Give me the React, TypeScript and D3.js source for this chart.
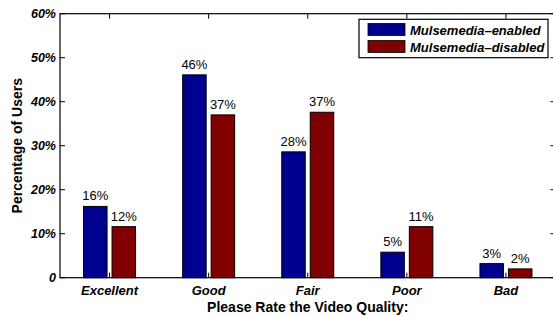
import React from "react";
import { scaleBand, scaleLinear } from "d3";

const categories = ["Excellent", "Good", "Fair", "Poor", "Bad"];
const seriesNames = ["Mulsemedia\u2013enabled", "Mulsemedia\u2013disabled"];
const enabledValues = [16.2, 46.1, 28.6, 5.8, 3.2];
const disabledValues = [11.6, 37.0, 37.6, 11.6, 2.0];
const enabledLabels = ["16%", "46%", "28%", "5%", "3%"];
const disabledLabels = ["12%", "37%", "37%", "11%", "2%"];
const yTicks = [0, 10, 20, 30, 40, 50, 60];
const yTickLabels = ["0", "10%", "20%", "30%", "40%", "50%", "60%"];
const colors = ["#00008f", "#800000"];

const W = 553;
const H = 316;
const left = 60;
const right = 555.5;
const top = 13.7;
const bottom = 277.7;
const font = "'Liberation Sans', Arial, Helvetica, sans-serif";

export default function App() {
  const x = scaleBand<string>().domain(categories).range([left, right]);
  const bw = x.bandwidth();
  const inner = scaleBand<string>()
    .domain(seriesNames)
    .range([-26, 26])
    .paddingInner(0.175);
  const y = scaleLinear().domain([0, 60]).range([bottom, top]);

  const series = [
    { name: seriesNames[0], values: enabledValues, labels: enabledLabels, color: colors[0] },
    { name: seriesNames[1], values: disabledValues, labels: disabledLabels, color: colors[1] },
  ];

  const center = (c: string) => (x(c) ?? 0) + bw / 2;

  return (
    <svg
      width={W}
      height={H}
      style={{ position: "absolute", left: 0, top: 0, background: "#fff" }}
      fontFamily={font}
    >
      <rect x={0} y={0} width={W} height={H} fill="#fff" />

      {/* bars */}
      {series.map((s) =>
        categories.map((c, i) => {
          const x0 = center(c) + (inner(s.name) ?? 0);
          return (
            <g key={s.name + c}>
              <rect
                x={x0}
                y={y(s.values[i])}
                width={inner.bandwidth()}
                height={bottom - y(s.values[i])}
                fill={s.color}
                stroke="#000"
                strokeWidth={1}
              />
              <text
                x={x0 + inner.bandwidth() / 2}
                y={y(s.values[i]) - 6}
                textAnchor="middle"
                fontSize={13}
                fill="#000"
              >
                {s.labels[i]}
              </text>
            </g>
          );
        })
      )}

      {/* frame */}
      <rect
        x={left}
        y={top}
        width={right - left}
        height={bottom - top}
        fill="none"
        stroke="#000"
        strokeWidth={1.2}
      />

      {/* y ticks */}
      {yTicks.map((t, i) => (
        <g key={"yt" + t}>
          <line x1={left} x2={left + 5} y1={y(t)} y2={y(t)} stroke="#000" />
          <line x1={right} x2={right - 5} y1={y(t)} y2={y(t)} stroke="#000" />
          <text
            x={left - 4}
            y={y(t) + 4.5}
            textAnchor="end"
            fontSize={12.5}
            fontWeight="bold"
            fontStyle="italic"
          >
            {yTickLabels[i]}
          </text>
        </g>
      ))}

      {/* x ticks */}
      {categories.map((c) => (
        <g key={"xt" + c}>
          <line x1={center(c)} x2={center(c)} y1={bottom} y2={bottom - 5} stroke="#000" />
          <line x1={center(c)} x2={center(c)} y1={top} y2={top + 5} stroke="#000" />
          <text
            x={center(c)}
            y={295}
            textAnchor="middle"
            fontSize={13}
            fontWeight="bold"
            fontStyle="italic"
          >
            {c}
          </text>
        </g>
      ))}

      {/* axis titles */}
      <text
        x={(left + right) / 2}
        y={312}
        textAnchor="middle"
        fontSize={14}
        fontWeight="bold"
      >
        Please Rate the Video Quality:
      </text>
      <text
        transform={`translate(22, ${(top + bottom) / 2}) rotate(-90)`}
        textAnchor="middle"
        fontSize={14}
        fontWeight="bold"
      >
        Percentage of Users
      </text>

      {/* legend */}
      <rect x={359} y={19.3} width={189} height={38.4} fill="#fff" stroke="#000" strokeWidth={1.2} />
      {series.map((s, i) => (
        <g key={"lg" + s.name}>
          <rect
            x={368}
            y={23.5 + i * 17}
            width={37}
            height={12}
            fill={s.color}
            stroke="#000"
            strokeWidth={0.8}
          />
          <text
            x={410}
            y={35.3 + i * 16.6}
            fontSize={13}
            fontWeight="bold"
            fontStyle="italic"
          >
            {s.name}
          </text>
        </g>
      ))}
    </svg>
  );
}
